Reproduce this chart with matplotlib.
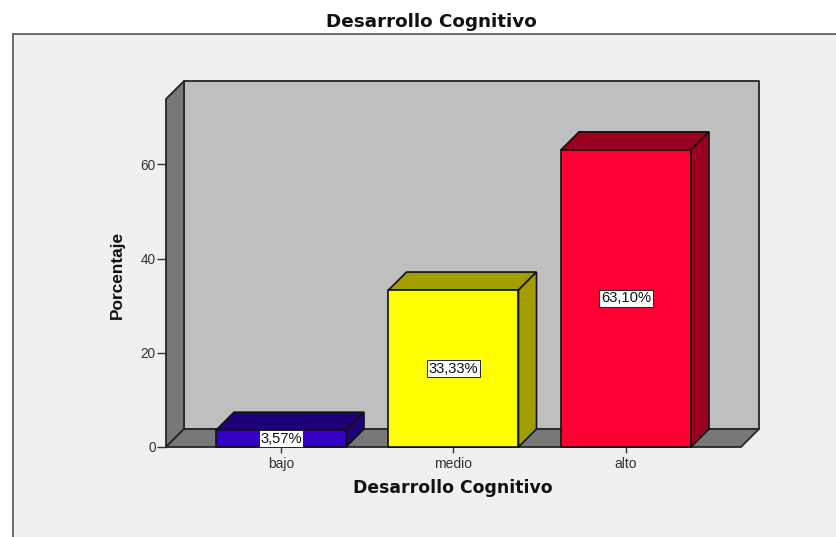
import matplotlib
matplotlib.use("Agg")
import matplotlib.pyplot as plt
from matplotlib.patches import Rectangle

categories = ["bajo", "medio", "alto"]
values = [3.57, 33.33, 63.10]
labels = ["3,57%", "33,33%", "63,10%"]
front_colors = ["#3300c8", "#ffff00", "#ff0033"]
dark_colors = ["#1f0078", "#a39e00", "#9a0020"]
yticks = [0, 20, 40, 60]

W, H = 837, 537
plt.rcParams["font.family"] = ["Liberation Sans", "DejaVu Sans"]
fig = plt.figure(figsize=(W / 100, H / 100), dpi=100, facecolor="white")

# outer panel runs off the right and bottom of the image
fig.patches.append(Rectangle((13 / W, -0.05), 1, (H - 34) / H + 0.05, transform=fig.transFigure,
                             facecolor="#f0f0f0", edgecolor="#555555", linewidth=1.2, zorder=-1))

ax = fig.add_axes([166 / W, (H - 447) / H, 575 / W, 348 / H])
ax.patch.set_visible(False)
xmin, xmax = -2 / 3, 8 / 3
ymax = 73.9
ax.set_xlim(xmin, xmax)
ax.set_ylim(0, ymax)
for s in ax.spines.values():
    s.set_visible(False)

# 3d depth in data units (18 px each way)
dx = 18 / 172.5
dy = 18 / (348 / ymax)
wall = dict(edgecolor="#262626", linewidth=1.3, clip_on=False, joinstyle="round")

ax.fill([xmin + dx, xmax + dx, xmax + dx, xmin + dx], [dy, dy, ymax + dy, ymax + dy], facecolor="#bfbfbf", zorder=1, **wall)
ax.fill([xmin, xmin + dx, xmin + dx, xmin], [0, dy, ymax + dy, ymax], facecolor="#787878", zorder=2, **wall)
ax.fill([xmin, xmax, xmax + dx, xmin + dx], [0, 0, dy, dy], facecolor="#787878", zorder=2, **wall)

bar_w = 130 / 172.5
edge = dict(edgecolor="#111111", linewidth=1.2, clip_on=False)
for i, v in enumerate(values):
    l, r = i - bar_w / 2, i + bar_w / 2
    ax.fill([l, r, r + dx, l + dx], [v, v, v + dy, v + dy], facecolor=dark_colors[i], zorder=3, **edge)
    ax.fill([r, r + dx, r + dx, r], [0, dy, v + dy, v], facecolor=dark_colors[i], zorder=3, **edge)
    ax.bar(i, v, width=bar_w, color=front_colors[i], zorder=4, **edge)
    ax.text(i, v / 2, labels[i], ha="center", va="center", fontsize=10.6, color="#111111", zorder=5,
            bbox=dict(boxstyle="square,pad=0.1", facecolor="white", edgecolor="#222222", linewidth=0.7))

ax.set_xticks(range(len(categories)), categories)
ax.set_yticks(yticks)
ax.tick_params(axis="y", length=6.5, width=1, color="#333333", labelsize=9.8, labelcolor="#333333", pad=1)
ax.tick_params(axis="x", length=4, width=1, color="#333333", labelsize=10, labelcolor="#333333", pad=3)

fig.text(431 / W, (H - 22) / H, "Desarrollo Cognitivo", ha="center", va="center",
         fontsize=13.2, fontweight="bold", color="#111111", family="DejaVu Sans")
fig.text(453 / W, (H - 488) / H, "Desarrollo Cognitivo", ha="center", va="center",
         fontsize=12.4, fontweight="bold", color="#111111", family="DejaVu Sans")
fig.text(117 / W, (H - 275) / H, "Porcentaje", ha="center", va="center", rotation=90,
         fontsize=12.4, fontweight="bold", color="#111111")

fig.savefig("out.png", dpi=100, facecolor="white")
